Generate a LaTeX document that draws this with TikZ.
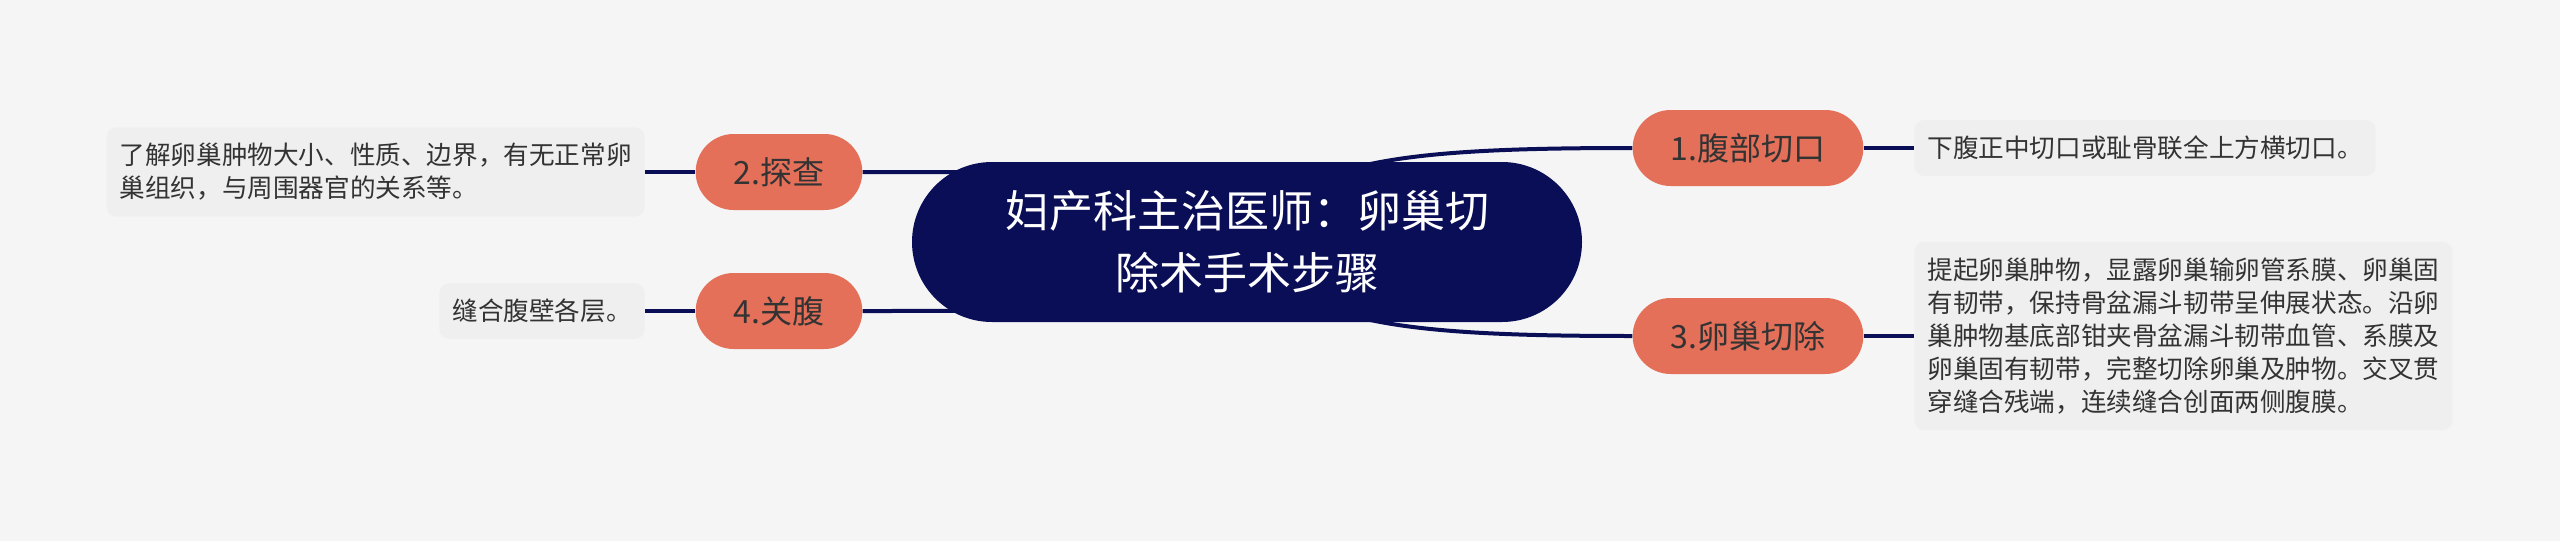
\documentclass[tikz,border=0pt]{standalone}
\usepackage{fontspec}
\setmainfont{Noto Sans CJK SC}
\usetikzlibrary{backgrounds}

\definecolor{rootblue}{HTML}{0A0E56}
\definecolor{stepred}{HTML}{E4705A}
\definecolor{notegray}{HTML}{EFEFEF}
\definecolor{pagegray}{HTML}{F5F5F5}
\definecolor{inkgray}{HTML}{333333}

\tikzset{
  rootbox/.style={fill=rootblue, text=white, rounded corners=40pt, minimum width=335pt, minimum height=80pt, align=center, font=\fontsize{22}{31}\selectfont},
  stepbox/.style={fill=stepred, text=inkgray, rounded corners=19pt, minimum height=38pt, inner xsep=19pt, font=\fontsize{16}{20}\selectfont},
  notebox/.style={fill=notegray, text=inkgray, rounded corners=5pt, inner xsep=6.5pt, inner ysep=8pt, align=left, font=\fontsize{12.8}{16.5}\selectfont},
  link/.style={draw=rootblue, line width=2pt},
}

\begin{document}
\begin{tikzpicture}[x=0.5pt,y=-0.5pt]
        \useasboundingbox (0,0) rectangle (2560,541);

        \coordinate (R) at (1247,242);

        \coordinate (S1) at (1748,148);
        \coordinate (S2) at (779,172);
        \coordinate (S3) at (1748,336);
        \coordinate (S4) at (779,311);

        \coordinate (N1) at (1914,148);
        \coordinate (N2) at (645,172);
        \coordinate (N3) at (1914,336);
        \coordinate (N4) at (645,311);

        \node[rootbox] (root) at (R) {妇产科主治医师：卵巢切\\除术手术步骤};

        \node[stepbox] (s1) at (S1) {1.腹部切口};
        \node[stepbox] (s2) at (S2) {2.探查};
        \node[stepbox] (s3) at (S3) {3.卵巢切除};
        \node[stepbox] (s4) at (S4) {4.关腹};

        \node[notebox,anchor=west] (n1) at (N1) {下腹正中切口或耻骨联全上方横切口。};
        \node[notebox,anchor=east] (n2) at (N2) {了解卵巢肿物大小、性质、边界，有无正常卵\\巢组织，与周围器官的关系等。};
        \node[notebox,anchor=west] (n3) at (N3) {提起卵巢肿物，显露卵巢输卵管系膜、卵巢固\\有韧带，保持骨盆漏斗韧带呈伸展状态。沿卵\\巢肿物基底部钳夹骨盆漏斗韧带血管、系膜及\\卵巢固有韧带，完整切除卵巢及肿物。交叉贯\\穿缝合残端，连续缝合创面两侧腹膜。};
        \node[notebox,anchor=east] (n4) at (N4) {缝合腹壁各层。};

        %connectors go under the boxes
        \begin{pgfonlayer}{background}
        \fill[pagegray] (0,0) rectangle (2560,541);

        \draw[link] (root.center) .. controls +(43,-82) and +(-231,0) .. (s1.west);
        \draw[link] (root.center) .. controls +(43,82) and +(-231,0) .. (s3.west);
        \draw[link] (root.center) .. controls +(-97,-70) and +(237,0) .. (s2.east);
        \draw[link] (root.center) .. controls +(-97,69) and +(237,0) .. (s4.east);

        \draw[link] (s1.east) -- (n1.west);
        \draw[link] (s2.west) -- (n2.east);
        \draw[link] (s3.east) -- (n3.west);
        \draw[link] (s4.west) -- (n4.east);
        \end{pgfonlayer}
\end{tikzpicture}
\end{document}
